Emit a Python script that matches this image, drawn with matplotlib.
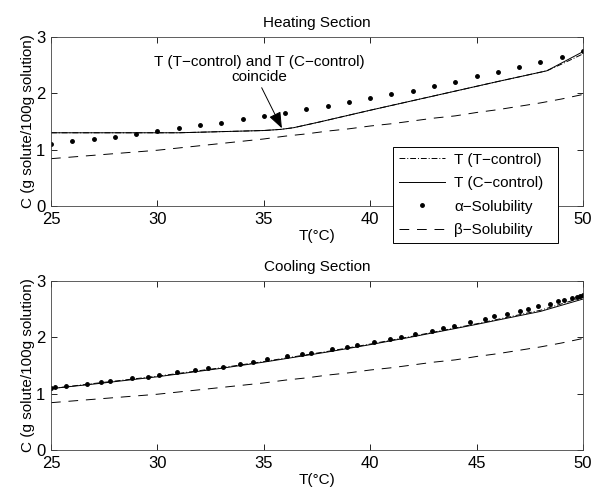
import numpy as np
import matplotlib
matplotlib.use("Agg")
from matplotlib import pyplot as plt

plt.rcParams['font.family'] = ['Liberation Sans', 'DejaVu Sans']
plt.rcParams['font.size'] = 11

# 溶解度曲线 (整数温度)
temp_int = np.arange(25, 51)
alpha_sol = [1.10, 1.15, 1.19, 1.23, 1.28, 1.33, 1.38, 1.43, 1.48, 1.54, 1.60, 1.65, 1.72,
             1.78, 1.84, 1.91, 1.98, 2.05, 2.13, 2.21, 2.30, 2.38, 2.47, 2.56, 2.65, 2.76]
beta_sol = [0.84, 0.87, 0.90, 0.93, 0.96, 0.99, 1.03, 1.07, 1.11, 1.15, 1.19, 1.24, 1.28,
            1.33, 1.37, 1.42, 1.46, 1.51, 1.56, 1.60, 1.66, 1.71, 1.77, 1.83, 1.90, 1.98]

# 加热段轨迹
heat_t = [25, 28, 31, 33, 35, 35.8, 36.4, 37.6, 40, 42, 44, 46, 48.3, 49, 50]
heat_tc = [1.30, 1.30, 1.30, 1.32, 1.34, 1.36, 1.39, 1.49, 1.70, 1.87, 2.04, 2.21, 2.40, 2.52, 2.70]
heat_cc = [1.30, 1.30, 1.30, 1.32, 1.34, 1.36, 1.39, 1.49, 1.70, 1.87, 2.04, 2.21, 2.40, 2.54, 2.74]

# 冷却段轨迹
cool_t = [25, 27, 30, 33, 35, 38, 40, 42, 45, 48, 50]
cool_tc = [1.09, 1.18, 1.31, 1.46, 1.57, 1.75, 1.88, 2.02, 2.24, 2.48, 2.71]
cool_cc = [1.09, 1.17, 1.30, 1.45, 1.56, 1.74, 1.87, 2.01, 2.23, 2.46, 2.68]

# 冷却段 alpha 溶解度采样点
cool_dot_t = [25.0, 25.19, 25.69, 26.71, 27.33, 27.77, 28.82, 29.54, 30.09, 30.91, 31.77,
              32.39, 33.07, 33.88, 34.51, 35.13, 36.07, 36.78, 37.20, 38.19, 38.89, 39.36,
              40.18, 40.93, 41.43, 42.10, 42.89, 43.40, 43.94, 44.69, 45.39, 45.82, 46.41,
              47.04, 47.43, 47.90, 48.45, 48.84, 49.11, 49.47, 49.70, 49.86, 49.99]
cool_dot_c = [1.10, 1.11, 1.13, 1.18, 1.20, 1.22, 1.27, 1.30, 1.33, 1.38, 1.42,
              1.45, 1.48, 1.53, 1.57, 1.61, 1.66, 1.70, 1.73, 1.79, 1.83, 1.86,
              1.92, 1.97, 2.01, 2.06, 2.12, 2.16, 2.20, 2.27, 2.33, 2.37, 2.42,
              2.47, 2.51, 2.55, 2.60, 2.64, 2.66, 2.70, 2.72, 2.74, 2.76]

x_ticks = [25, 30, 35, 40, 45, 50]
# 上图中 45 被图例遮住
heat_tick_labels = ['25', '30', '35', '40', '', '50']

W, H = 593, 492
fig = plt.figure(figsize=(W / 100, H / 100), dpi=100)
ax1 = fig.add_axes([51 / W, 1 - 206 / H, 532 / W, 169 / H])
ax2 = fig.add_axes([51 / W, 1 - 450 / H, 532 / W, 169 / H])

lw = 0.7
dashdot = (0, (6, 2, 1, 2))
dashed = (0, (10, 8))


def style(ax, title):
    ax.set_xlim(25, 50)
    ax.set_ylim(0, 3)
    ax.set_xticks(x_ticks)
    ax.set_yticks([0, 1, 2, 3])
    ax.tick_params(direction='in', top=True, right=True, length=4, width=0.6,
                   labelsize=12, pad=4)
    for s in ax.spines.values():
        s.set_linewidth(0.6)
        s.set_color('#444444')
    ax.set_title(title, fontsize=11, pad=7)
    ax.set_xlabel('T(°C)', fontsize=11, labelpad=2)
    ax.set_ylabel('C (g solute/100g solution)', fontsize=11, labelpad=1)


# 加热段
ax1.plot(heat_t, heat_tc, color='black', lw=lw, ls=dashdot, label='T (T\u2212control)')
ax1.plot(heat_t, heat_cc, color='black', lw=lw, ls='-', label='T (C\u2212control)')
ax1.plot(temp_int, alpha_sol, ls='none', marker='.', color='black', ms=5,
         label='\u03b1\u2212Solubility')
ax1.plot(temp_int, beta_sol, color='black', lw=lw, ls=dashed, label='\u03b2\u2212Solubility')
style(ax1, 'Heating Section')
ax1.set_xticklabels(heat_tick_labels)
ax1.text(34.8, 2.42, 'T (T\u2212control) and T (C\u2212control)\ncoincide',
         ha='center', va='center', fontsize=11, linespacing=1.15)
ax1.annotate('', xy=(35.85, 1.38), xytext=(34.9, 2.10),
             arrowprops=dict(arrowstyle='-|>,head_length=0.9,head_width=0.35',
                             color='black', lw=0.7, shrinkA=0, shrinkB=0))
leg = ax1.legend(loc='upper left', bbox_to_anchor=(0.643, 0.352, 0.31, 0.0),
                 mode='expand', fontsize=11, frameon=True, fancybox=False, framealpha=1,
                 edgecolor='black', handlelength=3.0, borderpad=0.4, labelspacing=0.62,
                 handletextpad=0.6, borderaxespad=0)
leg.get_frame().set_linewidth(0.7)
leg.set_zorder(10)

# 冷却段
ax2.plot(cool_t, cool_tc, color='black', lw=lw, ls=dashdot)
ax2.plot(cool_t, cool_cc, color='black', lw=lw, ls='-')
ax2.plot(cool_dot_t, cool_dot_c, ls='none', marker='.', color='black', ms=5)
ax2.plot(temp_int, beta_sol, color='black', lw=lw, ls=dashed)
style(ax2, 'Cooling Section')

fig.savefig('out.png', dpi=100)
